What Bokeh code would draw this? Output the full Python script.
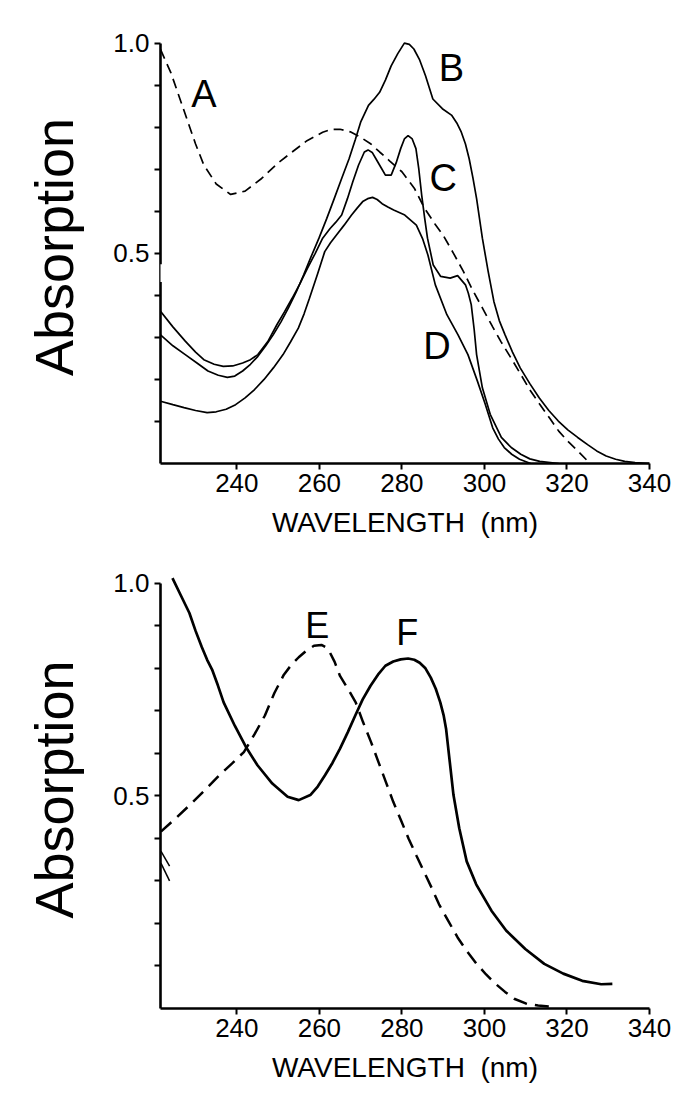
from bokeh.plotting import figure
from bokeh.layouts import column
from bokeh.models import FixedTicker, Range1d, Arrow
from bokeh.core.properties import value
from bokeh.embed import file_html
from bokeh.resources import INLINE

# ---------------- data: top panel ----------------
a_wl = [221.5, 224, 227, 230, 232, 235, 238.5, 242, 246, 250, 253.4, 257, 260.8, 263, 265, 267.5, 270, 272.5,
        274.6, 277, 280, 283, 285.5, 288, 290, 292.5, 294.9, 297, 299.5, 302, 304, 306.5, 308.8, 311, 313.4,
        316, 318, 320.5, 322.6, 325]
a_val = [0.985, 0.93, 0.845, 0.76, 0.71, 0.665, 0.64, 0.648, 0.678, 0.715, 0.741, 0.768, 0.788, 0.795, 0.795,
         0.789, 0.776, 0.76, 0.741, 0.72, 0.694, 0.655, 0.607, 0.57, 0.543, 0.5, 0.457, 0.415, 0.37, 0.325,
         0.29, 0.25, 0.212, 0.175, 0.141, 0.105, 0.077, 0.05, 0.03, 0.006]

b_wl = [221.5, 224.5, 227.5, 230.5, 233, 235.5, 237.7, 239.5, 241.4, 243.3, 245.1, 247, 248.8, 250.7, 252.5,
        254.4, 256.2, 258, 259.9, 261.8, 263.6, 265.4, 267.2, 268.7, 270, 271.9, 273.2, 274.6, 276, 277.4,
        279, 280.6, 281.8, 282.9, 284.3, 285.7, 287.5, 289.8, 292.1, 293.3, 294.4, 295.4, 296.3, 297.2,
        298.1, 299.5, 300.9, 302.3, 303.6, 305, 306.8, 308.7, 311, 313.3, 315.6, 317.9, 320.2, 322.6, 325,
        327.2, 329.5, 331.8, 334, 336.5, 340]
b_val = [0.306, 0.28, 0.259, 0.238, 0.22, 0.21, 0.205, 0.208, 0.22, 0.236, 0.255, 0.28, 0.306, 0.337, 0.37,
         0.408, 0.449, 0.492, 0.536, 0.583, 0.63, 0.678, 0.725, 0.77, 0.812, 0.852, 0.866, 0.883, 0.912, 0.946,
         0.975, 1.0, 0.997, 0.986, 0.96, 0.923, 0.867, 0.844, 0.828, 0.81, 0.788, 0.76, 0.725, 0.68,
         0.63, 0.536, 0.457, 0.385, 0.34, 0.306, 0.265, 0.227, 0.19, 0.156, 0.126, 0.101, 0.08, 0.062, 0.045,
         0.03, 0.018, 0.01, 0.005, 0.002, 0.0]

c_wl = [221.5, 224.5, 227.5, 230, 232, 234.5, 236.7, 239, 241.4, 243.3, 245.1, 247.5, 249.7, 251.5, 253.4,
        255.3, 257.1, 259, 260.8, 262.6, 264, 265.4, 266.8, 268.1, 269.5, 270.9, 271.8, 272.8, 273.7, 275,
        276, 277.4, 278.6, 279.7, 280.6, 281.5, 282.5, 283.4, 284.1, 284.8, 285.5, 286.2, 287.6, 289.4,
        291.7, 293.5, 295.4, 296.1, 296.8, 297.5, 298.1, 299.5, 301.4, 304.1, 306.5, 308.8, 311, 313.4, 318]
c_val = [0.362, 0.325, 0.291, 0.265, 0.247, 0.236, 0.231, 0.232, 0.239, 0.247, 0.259, 0.29, 0.33, 0.36, 0.393,
         0.428, 0.464, 0.5, 0.536, 0.559, 0.574, 0.591, 0.63, 0.67, 0.71, 0.741, 0.746, 0.74, 0.725, 0.703,
         0.686, 0.686, 0.715, 0.749, 0.772, 0.78, 0.772, 0.749, 0.7, 0.638, 0.585, 0.536, 0.472, 0.445,
         0.441, 0.447, 0.425, 0.405, 0.378, 0.32, 0.259, 0.18, 0.117, 0.062, 0.038, 0.022, 0.011, 0.005, 0.0]

d_wl = [221.5, 224.5, 227.2, 230, 232.8, 235, 237.4, 239.7, 242, 244.3, 246.6, 248.9, 251.2, 253, 254.9,
        256.3, 257.6, 259.5, 261.3, 262.7, 264.1, 266, 267.8, 269.2, 270.5, 271.7, 272.9, 274, 275.2,
        276.6, 278, 280.7, 283.5, 285, 286.3, 288.1, 290.9, 293.6, 296, 298.3, 300.2, 302, 303.4, 304.8,
        306.6, 308.5, 311.2]
d_val = [0.148, 0.14, 0.133, 0.126, 0.121, 0.123, 0.129, 0.14, 0.156, 0.176, 0.2, 0.228, 0.259, 0.289, 0.322,
         0.356, 0.393, 0.449, 0.504, 0.525, 0.543, 0.567, 0.591, 0.608, 0.623, 0.63, 0.633, 0.628, 0.618,
         0.61, 0.603, 0.591, 0.567, 0.535, 0.496, 0.425, 0.354, 0.306, 0.259, 0.196, 0.141, 0.085, 0.058,
         0.038, 0.022, 0.01, 0.0]

# ---------------- data: bottom panel ----------------
e_wl = [221.6, 225.5, 229.4, 232.6, 235.8, 238.8, 241.7, 244.3, 246.8, 249.1, 251.4, 253.2, 255, 256.9, 258.7,
        260.5, 261.5, 262.4, 263.7, 265, 266.9, 268.8, 270.6, 272.5, 274.3, 276.1, 277.9, 279.8, 281.6,
        283.5, 285.3, 287.2, 289, 291.3, 293.5, 295.8, 298.1, 300.4, 302.7, 305, 307.2, 310, 313, 316.5]
e_val = [0.416, 0.45, 0.486, 0.517, 0.549, 0.576, 0.603, 0.645, 0.689, 0.742, 0.785, 0.808, 0.826, 0.842, 0.853,
         0.855, 0.85, 0.84, 0.815, 0.782, 0.752, 0.72, 0.673, 0.627, 0.58, 0.533, 0.486, 0.442, 0.4,
         0.36, 0.323, 0.284, 0.245, 0.205, 0.167, 0.134, 0.105, 0.08, 0.058, 0.039, 0.023, 0.012, 0.007, 0.004]

f_wl = [224.4, 226.5, 228.5, 230, 231.5, 232.8, 234, 235.4, 236.8, 239.5, 242.2, 245, 248.6, 252.3, 255, 257.8,
        259.6, 261.4, 263.2, 265, 266.9, 268.7, 270.5, 272.4, 274.2, 276, 277.9, 279.7, 281.5, 283, 284.3,
        285.7, 287, 288.2, 289.3, 290.1, 290.7, 291.6, 292.5, 293.9, 295.7, 298, 301.7, 305.3, 309.9, 314.5,
        319.1, 323.7, 328.3, 331]
f_val = [1.012, 0.97, 0.93, 0.888, 0.85, 0.82, 0.797, 0.76, 0.72, 0.665, 0.615, 0.572, 0.529, 0.498, 0.49,
         0.502, 0.522, 0.549, 0.578, 0.611, 0.65, 0.689, 0.727, 0.759, 0.785, 0.806, 0.816, 0.821, 0.823, 0.82,
         0.813, 0.8, 0.778, 0.752, 0.72, 0.69, 0.658, 0.58, 0.502, 0.424, 0.346, 0.292, 0.23, 0.183, 0.14,
         0.105, 0.082, 0.065, 0.057, 0.058]

top_labels = ["A", "B", "C", "D"]
top_label_wl = [232.0, 292.0, 290.0, 288.5]
top_label_val = [0.88, 0.94, 0.68, 0.28]
bot_labels = ["E", "F"]
bot_label_wl = [259.5, 281.3]
bot_label_val = [0.90, 0.885]

x_ticks = [240, 260, 280, 300, 320, 340]
y_ticks = [0.1, 0.2, 0.3, 0.4, 0.5, 0.6, 0.7, 0.8, 0.9, 1.0]
y_tick_text = {0.5: "0.5", 1.0: "1.0"}

x_start, x_end = 221.5, 340.0
y_top = 1.03

LABEL_FONT = "Liberation Sans"


def make_panel(width, height, bl, br, bt, bb):
    p = figure(width=width, height=height, output_backend="svg", toolbar_location=None,
               x_range=Range1d(x_start, x_end), y_range=Range1d(0, y_top),
               min_border_left=bl, min_border_right=br, min_border_top=bt, min_border_bottom=bb)
    p.outline_line_color = None
    p.xgrid.visible = False
    p.ygrid.visible = False
    p.background_fill_color = "white"
    p.border_fill_color = "white"
    for ax in (p.xaxis[0], p.yaxis[0]):
        ax.axis_line_width = 2.6
        ax.axis_line_color = "black"
        ax.major_tick_line_width = 2
        ax.major_tick_line_color = "black"
        ax.major_tick_in = 0
        ax.major_tick_out = 6
        ax.minor_tick_line_color = None
        ax.major_label_text_font = LABEL_FONT
        ax.major_label_text_font_size = "26px"
        ax.major_label_text_color = "black"
        ax.axis_label_text_color = "black"
    p.xaxis.ticker = FixedTicker(ticks=x_ticks)
    p.yaxis.ticker = FixedTicker(ticks=y_ticks)
    p.yaxis.bounds = (0, 1.0)
    p.yaxis.major_label_overrides = {t: y_tick_text.get(t, "") for t in y_ticks}
    p.xaxis.major_label_standoff = 4
    p.yaxis.major_label_standoff = 5
    p.xaxis.axis_label = "WAVELENGTH\u00a0\u00a0(nm)"
    p.xaxis.axis_label_text_font = LABEL_FONT
    p.xaxis.axis_label_text_font_size = "28px"
    p.xaxis.axis_label_text_font_style = "normal"
    p.xaxis.axis_label_standoff = 12
    p.yaxis.axis_label = "Absorption"
    p.yaxis.axis_label_text_font = LABEL_FONT
    p.yaxis.axis_label_text_font_size = "54px"
    p.yaxis.axis_label_text_font_style = "normal"
    p.yaxis.axis_label_standoff = 26
    return p


# ---------- top panel ----------
p1 = make_panel(700, 563, 157, 51, 30, 100)
p1.line(a_wl, a_val, line_color="black", line_width=1.7, line_dash="10 6")
p1.line(b_wl, b_val, line_color="black", line_width=1.7)
p1.line(c_wl, c_val, line_color="black", line_width=1.7)
p1.line(d_wl, d_val, line_color="black", line_width=1.7)
p1.text(x=top_label_wl, y=top_label_val, text=top_labels, text_font=value(LABEL_FONT),
        text_font_size="38px", text_align="center", text_baseline="middle", text_color="black")
# axis break gap on the y axis
p1.add_layout(Arrow(end=None, start=None, x_start=x_start, y_start=0.432, x_end=x_start, y_end=0.474,
                    line_color="white", line_width=8))

# ---------- bottom panel ----------
p2 = make_panel(700, 542, 160, 45, 7, 97)
p2.line(e_wl, e_val, line_color="black", line_width=2.5, line_dash="14 8")
p2.line(f_wl, f_val, line_color="black", line_width=2.7)
p2.text(x=bot_label_wl, y=bot_label_val, text=bot_labels, text_font=value(LABEL_FONT),
        text_font_size="36px", text_align="center", text_baseline="middle", text_color="black")
# axis break slashes
brk_x0 = [221.6, 221.6]
brk_y0 = [0.37, 0.342]
brk_x1 = [223.7, 223.7]
brk_y1 = [0.335, 0.30]
for i in range(2):
    p2.add_layout(Arrow(end=None, start=None, x_start=brk_x0[i], y_start=brk_y0[i], x_end=brk_x1[i],
                        y_end=brk_y1[i], line_color="black", line_width=1.5))

layout = column(p1, p2, spacing=0)
open("out.html", "w").write(file_html(layout, INLINE))
